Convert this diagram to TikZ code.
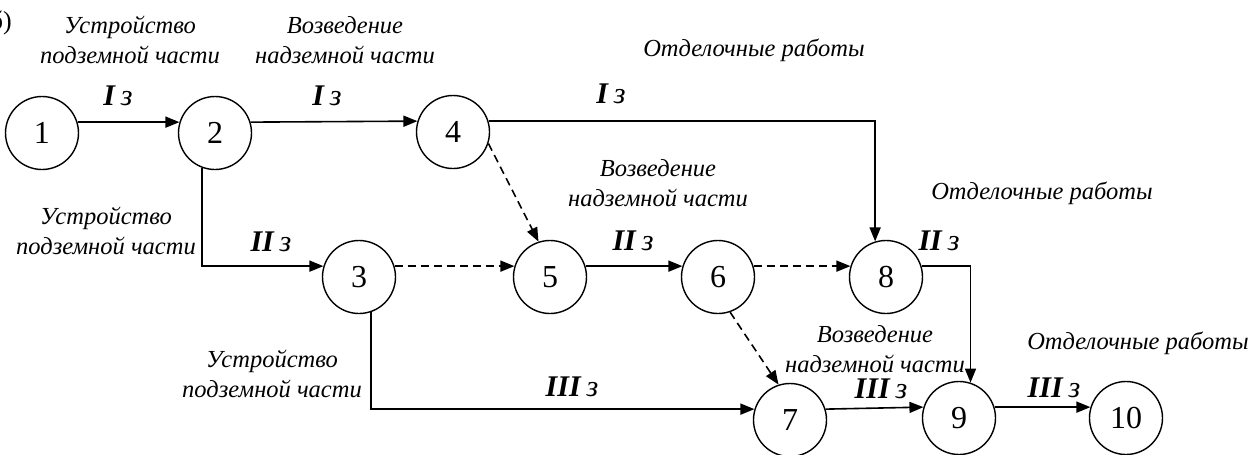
\documentclass[tikz,border=0pt]{standalone}
\usepackage{fontspec}
\setmainfont{Liberation Serif}
\usetikzlibrary{arrows.meta}
\begin{document}
\begin{tikzpicture}[x=1pt,y=-1pt,
  ev/.style={circle,draw,line width=1.4pt,minimum size=73pt,inner sep=0pt,font=\fontsize{32}{32}\selectfont},
  job/.style={line width=1.6pt,-{Triangle[length=14pt,width=11pt]}},
  dum/.style={job,dash pattern=on 8pt off 5pt},
  lbl/.style={align=center,font=\fontsize{24.5}{30}\itshape\selectfont,inner sep=0pt},
  zk/.style={font=\fontsize{30}{30}\selectfont,inner sep=0pt}]
\useasboundingbox (0,0) rectangle (1259,455);
% events
\node[ev] (n1) at (42,133) {1};
\node[ev] (n2) at (215,133) {2};
\node[ev] (n4) at (453,132) {4};
\node[ev] (n3) at (359,277) {3};
\node[ev] (n5) at (550,277) {5};
\node[ev] (n6) at (718,277) {6};
\node[ev] (n8) at (886,277) {8};
\node[ev] (n7) at (790,420) {7};
\node[ev] (n9) at (959,418) {9};
\node[ev] (n10) at (1126,418) {10};
% works
\draw[job] (n1.17) -- (n2.163);
\draw[job] (n2.17) -- (n4.163);
\draw[job] (n4.17) -| (n8.107);
\draw[dum] (n4.-18) -- (n5.108);
\draw[job] (n2.250) |- (n3.163);
\draw[dum] (n3.17) -- (n5.163);
\draw[job] (n5.17) -- (n6.163);
\draw[dum] (n6.17) -- (n8.163);
\draw[job] (n8.17) -| (n9.72);
\draw[job] (n3.289) |- (n7.163);
\draw[dum] (n6.289) -- (n7.108);
\draw[job] (n7.17) -- (n9.163);
\draw[job] (n9.17) -- (n10.163);
% labels
\node[font=\fontsize{26}{26}\selectfont,anchor=east,inner sep=0pt] (b) at (12,23) {б)};
\node[lbl] (t1) at (130,40) {Устройство\\подземной части};
\node[lbl] (t2) at (345,40) {Возведение\\надземной части};
\node[lbl] (t3) at (754,50) {Отделочные работы};
\node[lbl] (t4) at (106,231) {Устройство\\подземной части};
\node[lbl] (t5) at (658,183) {Возведение\\надземной части};
\node[lbl] (t6) at (1042,193) {Отделочные работы};
\node[lbl] (t7) at (272,374) {Устройство\\подземной части};
\node[lbl] (t8) at (875,349) {Возведение\\надземной части};
\node[lbl] (t9) at (1138,343) {Отделочные работы};
\node[zk] (z1) at (118,96) {\textbf{\textit{I}}\,\textit{з}};
\node[zk] (z2) at (327,96) {\textbf{\textit{I}}\,\textit{з}};
\node[zk] (z3) at (611,94) {\textbf{\textit{I}}\,\textit{з}};
\node[zk] (z4) at (271,242) {\textbf{\textit{II}}\,\textit{з}};
\node[zk] (z5) at (633,241) {\textbf{\textit{II}}\,\textit{з}};
\node[zk] (z6) at (939,241) {\textbf{\textit{II}}\,\textit{з}};
\node[zk] (z7) at (572,387) {\textbf{\textit{III}}\,\textit{з}};
\node[zk] (z8) at (881,389) {\textbf{\textit{III}}\,\textit{з}};
\node[zk] (z9) at (1054,388) {\textbf{\textit{III}}\,\textit{з}};
\end{tikzpicture}
\end{document}
